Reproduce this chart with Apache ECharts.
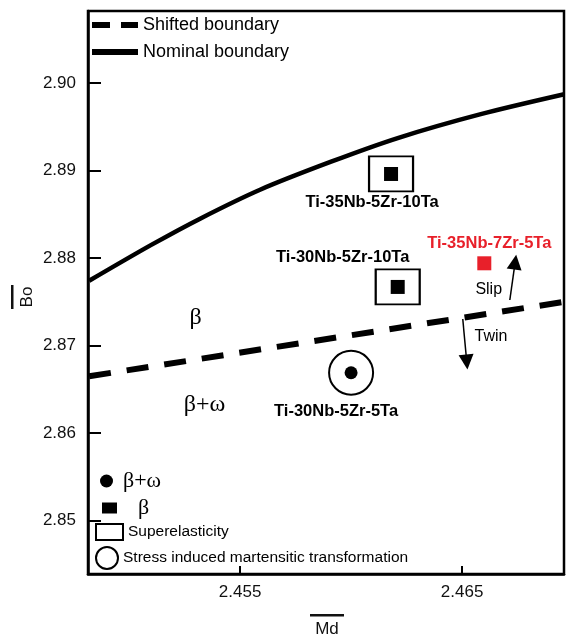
<!DOCTYPE html>
<html>
<head>
<meta charset="utf-8">
<script src="https://cdn.jsdelivr.net/npm/echarts@6/dist/echarts.min.js"></script>
<style>
  html, body { margin: 0; padding: 0; background: #fff; }
  #main { width: 568px; height: 636px; }
</style>
</head>
<body>
<div id="main"></div>
<script>
// 坐标轴刻度
var xTicks = [2.455, 2.465];
var yTicks = [2.85, 2.86, 2.87, 2.88, 2.89, 2.90];

// 边界线 (Md, Bo)
var nominalMd = [2.4482, 2.4510, 2.4532, 2.4559, 2.4591, 2.4621, 2.4658, 2.4696];
var nominalBo = [2.8774, 2.8815, 2.8845, 2.8878, 2.8910, 2.8937, 2.8964, 2.8987];
var shiftedMd = [2.4482, 2.4696];
var shiftedBo = [2.8665, 2.8750];

// 合金点
var alloyNames = ['Ti-35Nb-5Zr-10Ta', 'Ti-30Nb-5Zr-10Ta', 'Ti-30Nb-5Zr-5Ta', 'Ti-35Nb-7Zr-5Ta'];
var alloyMd = [2.4618, 2.4621, 2.4600, 2.4660];
var alloyBo = [2.8896, 2.8767, 2.8669, 2.8794];
var alloyPhase = ['β', 'β', 'β+ω', 'β'];
var alloyBehavior = ['Superelasticity', 'Superelasticity', 'Stress induced martensitic transformation', ''];
var highlight = 'Ti-35Nb-7Zr-5Ta';

// 区域文字
var regionText = ['β', 'β+ω'];
var regionMd = [2.4530, 2.4534];
var regionBo = [2.8732, 2.8632];

// 箭头 Slip / Twin
var arrowText = ['Slip', 'Twin'];
var arrowFromMd = [2.46715, 2.46503];
var arrowFromBo = [2.87521, 2.87304];
var arrowToMd = [2.46739, 2.46521];
var arrowToBo = [2.87954, 2.86813];
var arrowTextMd = [2.4662, 2.4663];
var arrowTextBo = [2.8764, 2.8710];

// 标签偏移 (样式)
var labelOffset = {
  'Ti-35Nb-5Zr-10Ta': [-19, 28],
  'Ti-30Nb-5Zr-10Ta': [-55, -29],
  'Ti-30Nb-5Zr-5Ta': [-15, 39],
  'Ti-35Nb-7Zr-5Ta': [5, -20]
};

var SANS = "'Liberation Sans', Arial, sans-serif";
var SERIF = "'Liberation Serif', 'Times New Roman', serif";

function zip(a, b) {
  return a.map(function (v, i) { return [v, b[i]]; });
}

function pick(test, withLabel, color) {
  var out = [];
  alloyNames.forEach(function (n, i) {
    if (!test(i)) return;
    var item = { name: n, value: [alloyMd[i], alloyBo[i]] };
    if (withLabel) {
      item.label = {
        show: true,
        position: 'inside',
        offset: labelOffset[n],
        formatter: n,
        fontFamily: SANS,
        fontWeight: 'bold',
        fontSize: 16.5,
        color: color || '#000',
        textBorderWidth: 0
      };
    }
    out.push(item);
  });
  return out;
}

var openStyle = { color: 'rgba(0,0,0,0)', borderColor: '#000', borderWidth: 2, opacity: 1 };

var myChart = echarts.init(document.getElementById('main'));

var option = {
  animation: false,
  grid: {
    left: 88, right: 4, top: 11, bottom: 62,
    outerBoundsMode: 'none',
    show: true,
    borderColor: '#000',
    borderWidth: 2.5
  },
  xAxis: {
    type: 'value',
    min: 2.44815,
    max: 2.46959,
    splitLine: { show: false },
    axisLine: { lineStyle: { color: '#000', width: 2.5 } },
    axisTick: { inside: true, length: 8, customValues: xTicks, lineStyle: { color: '#000', width: 2 } },
    axisLabel: {
      customValues: xTicks,
      formatter: function (v) { return v.toFixed(3); },
      fontFamily: SANS, fontSize: 17, color: '#111', margin: 10
    }
  },
  yAxis: {
    type: 'value',
    min: 2.84392,
    max: 2.90821,
    splitLine: { show: false },
    axisLine: { lineStyle: { color: '#000', width: 2.5 } },
    axisTick: { inside: true, length: 13, customValues: yTicks, lineStyle: { color: '#000', width: 2 } },
    axisLabel: {
      customValues: yTicks,
      formatter: function (v) { return v.toFixed(2); },
      fontFamily: SANS, fontSize: 17, color: '#111', margin: 12
    }
  },
  legend: [
    {
      orient: 'vertical',
      left: 92, top: 15,
      padding: 0,
      itemWidth: 46, itemHeight: 6, itemGap: 7,
      selectedMode: false,
      textStyle: { fontFamily: SANS, fontSize: 18, color: '#000', lineHeight: 20 },
      data: [
        { name: 'Shifted boundary', icon: 'path://M0,0H18V6H0Z M29,0H46V6H29Z', itemStyle: { color: '#000', borderWidth: 0 } },
        { name: 'Nominal boundary', icon: 'path://M0,0H46V6H0Z', itemStyle: { color: '#000', borderWidth: 0 } }
      ]
    },
    {
      left: 100, top: 469, padding: 0,
      itemWidth: 23, itemHeight: 13,
      selectedMode: false,
      textStyle: { fontFamily: SERIF, fontSize: 22, color: '#000', lineHeight: 24 },
      data: [{ name: 'β+ω', icon: 'circle', itemStyle: { color: '#000', opacity: 1 } }]
    },
    {
      left: 102, top: 496, padding: 0,
      itemWidth: 15, itemHeight: 11,
      selectedMode: false,
      textStyle: { fontFamily: SERIF, fontSize: 22, color: '#000', lineHeight: 24, padding: [0, 0, 0, 16] },
      data: [{ name: 'β', icon: 'rect', itemStyle: { color: '#000', opacity: 1 } }]
    },
    {
      left: 95, top: 523, padding: 0,
      itemWidth: 27, itemHeight: 16,
      selectedMode: false,
      textStyle: { fontFamily: SANS, fontSize: 15.5, color: '#000', lineHeight: 18 },
      data: [{ name: 'Superelasticity', icon: 'rect', itemStyle: openStyle }]
    },
    {
      left: 95, top: 546, padding: 0,
      itemWidth: 22, itemHeight: 22,
      selectedMode: false,
      textStyle: { fontFamily: SANS, fontSize: 15.5, color: '#000', lineHeight: 18 },
      data: [{ name: 'Stress induced martensitic transformation', icon: 'circle', itemStyle: openStyle }]
    }
  ],
  graphic: [
    {
      type: 'text', x: 27.5, y: 297, rotation: Math.PI / 2,
      style: { text: 'Bo', font: '17px ' + SANS, fill: '#111', align: 'center', verticalAlign: 'middle' }
    },
    { type: 'rect', shape: { x: 11, y: 285, width: 2.5, height: 24 }, style: { fill: '#111' } },
    {
      type: 'text', x: 327, y: 629,
      style: { text: 'Md', font: '17px ' + SANS, fill: '#111', align: 'center', verticalAlign: 'middle' }
    },
    { type: 'rect', shape: { x: 310, y: 614, width: 34, height: 2.5 }, style: { fill: '#111' } }
  ],
  series: [
    {
      name: 'Shifted boundary',
      type: 'line',
      symbol: 'none',
      silent: true,
      data: zip(shiftedMd, shiftedBo),
      itemStyle: { color: '#000' },
      lineStyle: { color: '#000', width: 6, type: [22, 16] }
    },
    {
      name: 'Nominal boundary',
      type: 'line',
      symbol: 'none',
      smooth: 0.3,
      silent: true,
      data: zip(nominalMd, nominalBo),
      itemStyle: { color: '#000' },
      lineStyle: { color: '#000', width: 4.5 }
    },
    {
      name: 'Superelasticity',
      type: 'scatter',
      symbol: 'rect',
      symbolSize: [44, 35],
      itemStyle: openStyle,
      data: pick(function (i) { return alloyBehavior[i] === 'Superelasticity'; }, false)
    },
    {
      name: 'Stress induced martensitic transformation',
      type: 'scatter',
      symbol: 'circle',
      symbolSize: 44,
      itemStyle: openStyle,
      data: pick(function (i) { return alloyBehavior[i] === 'Stress induced martensitic transformation'; }, false)
    },
    {
      name: 'β',
      type: 'scatter',
      symbol: 'rect',
      symbolSize: 14,
      itemStyle: { color: '#000', opacity: 1 },
      data: pick(function (i) { return alloyPhase[i] === 'β' && alloyNames[i] !== highlight; }, true)
    },
    {
      name: 'β+ω',
      type: 'scatter',
      symbol: 'circle',
      symbolSize: 13,
      itemStyle: { color: '#000', opacity: 1 },
      data: pick(function (i) { return alloyPhase[i] === 'β+ω'; }, true)
    },
    {
      name: highlight,
      type: 'scatter',
      symbol: 'rect',
      symbolSize: 14,
      itemStyle: { color: '#e8202a', opacity: 1 },
      data: pick(function (i) { return alloyNames[i] === highlight; }, true, '#e8202a')
    },
    {
      name: 'arrows',
      type: 'lines',
      coordinateSystem: 'cartesian2d',
      symbol: ['none', 'triangle'],
      symbolSize: 15,
      lineStyle: { color: '#000', width: 1.5, opacity: 1 },
      data: arrowText.map(function (t, i) {
        return { name: t, coords: [[arrowFromMd[i], arrowFromBo[i]], [arrowToMd[i], arrowToBo[i]]] };
      })
    },
    {
      name: 'notes',
      type: 'scatter',
      symbolSize: 1,
      itemStyle: { color: 'rgba(0,0,0,0)', opacity: 1 },
      data: regionText.map(function (t, i) {
        return {
          name: t, value: [regionMd[i], regionBo[i]],
          label: { show: true, position: 'inside', formatter: t, fontFamily: SERIF, fontSize: 24, color: '#000', textBorderWidth: 0 }
        };
      }).concat(arrowText.map(function (t, i) {
        return {
          name: t, value: [arrowTextMd[i], arrowTextBo[i]],
          label: { show: true, position: 'inside', formatter: t, fontFamily: SANS, fontSize: 16, color: '#000', textBorderWidth: 0 }
        };
      }))
    }
  ]
};

myChart.setOption(option);
window.addEventListener('resize', function () {
  myChart.resize();
});
</script>
</body>
</html>
